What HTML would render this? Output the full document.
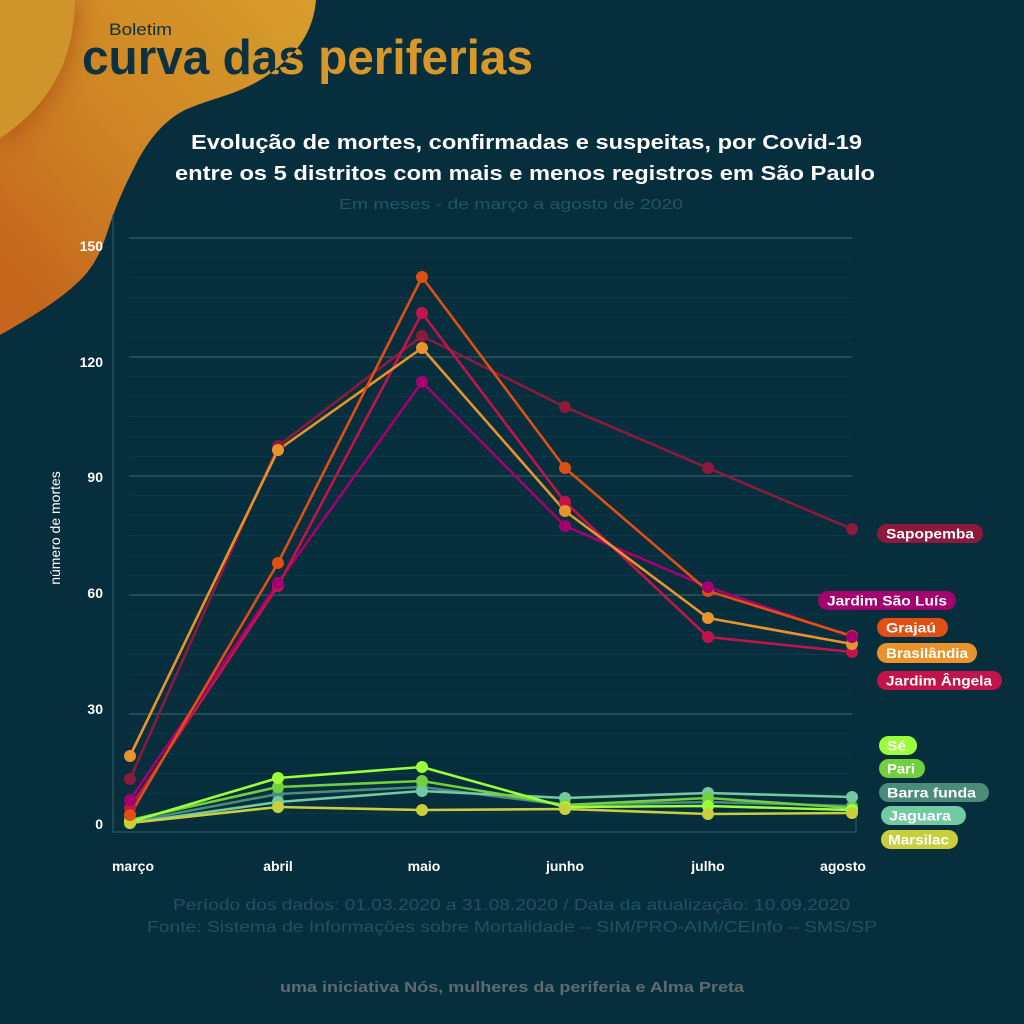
<!DOCTYPE html>
<html><head><meta charset="utf-8">
<style>
html,body{margin:0;padding:0;background:#072e3c;}
svg{display:block;}
text{font-family:"Liberation Sans",sans-serif;}
</style></head>
<body>
<svg width="1024" height="1024" viewBox="0 0 1024 1024" xmlns="http://www.w3.org/2000/svg">
<defs>
<linearGradient id="bg1" x1="300" y1="0" x2="0" y2="260" gradientUnits="userSpaceOnUse">
<stop offset="0" stop-color="#d79d2b"/>
<stop offset="0.55" stop-color="#cf8525"/>
<stop offset="1" stop-color="#c4671d"/>
</linearGradient>
<filter id="blur" x="-50%" y="-50%" width="200%" height="200%"><feGaussianBlur stdDeviation="10"/></filter>
<clipPath id="blobclip"><path d="M0,0 L316,0 C314,25 303,45 286,60 C270,76 252,86 230,94 C212,100 198,104 185,110 C165,120 150,138 138,160 C126,183 116,205 108,230 C100,255 92,270 75,285 C55,303 30,318 0,335 Z"/></clipPath>
</defs>
<rect width="1024" height="1024" fill="#072e3c"/>
<!-- blob -->
<path d="M0,0 L316,0 C314,25 303,45 286,60 C270,76 252,86 230,94 C212,100 198,104 185,110 C165,120 150,138 138,160 C126,183 116,205 108,230 C100,255 92,270 75,285 C55,303 30,318 0,335 Z" fill="url(#bg1)"/>
<g clip-path="url(#blobclip)">
<path d="M0,0 L82,0 C80,55 62,110 0,150 Z" fill="#a94f14" opacity="0.55" filter="url(#blur)"/>
<path d="M0,0 L75,0 C74,50 58,100 0,138 Z" fill="#d0952a"/>
</g>
<!-- logo -->
<text x="109" y="35" font-size="17" fill="#0c3242" textLength="63" lengthAdjust="spacingAndGlyphs">Boletim</text>
<text x="82" y="74" font-size="49" font-weight="bold" fill="#d8972b" textLength="451" lengthAdjust="spacingAndGlyphs">curva das periferias</text>
<g clip-path="url(#blobclip)">
<text x="82" y="74" font-size="49" font-weight="bold" fill="#0c3242" textLength="451" lengthAdjust="spacingAndGlyphs">curva das periferias</text>
</g>
<!-- titles -->
<text x="191" y="149" font-size="20" font-weight="bold" fill="#ffffff" textLength="671" lengthAdjust="spacingAndGlyphs">Evolução de mortes, confirmadas e suspeitas, por Covid-19</text>
<text x="175" y="180" font-size="20" font-weight="bold" fill="#ffffff" textLength="700" lengthAdjust="spacingAndGlyphs">entre os 5 distritos com mais e menos registros em São Paulo</text>
<text x="339" y="209" font-size="15" fill="#1f5669" textLength="344" lengthAdjust="spacingAndGlyphs">Em meses - de março a agosto de 2020</text>
<!-- minor grid -->
<g stroke="#0e3946" stroke-width="1">
<path d="M129,257.8H852M129,277.7H852M129,297.5H852M129,317.3H852M129,337.2H852
M129,376.8H852M129,396.7H852M129,416.5H852M129,436.3H852M129,456.2H852
M129,495.8H852M129,515.7H852M129,535.5H852M129,555.3H852M129,575.2H852
M129,614.8H852M129,634.7H852M129,654.5H852M129,674.3H852M129,694.2H852
M129,733.8H852M129,753.7H852M129,773.5H852M129,793.3H852M129,813.2H852"/>
</g>
<!-- major grid -->
<g stroke="#2b5562" stroke-width="1.6">
<path d="M129,238H852M129,357H852M129,476H852M129,595H852M129,714H852"/>
</g>
<!-- frame -->
<path d="M113,215V832H856V812" fill="none" stroke="#24505c" stroke-width="1.5"/>
<!-- y ticks -->
<g font-size="14" font-weight="bold" fill="#ffffff" text-anchor="end">
<text x="103" y="251">150</text>
<text x="103" y="367">120</text>
<text x="103" y="482">90</text>
<text x="103" y="598">60</text>
<text x="103" y="714">30</text>
<text x="103" y="829">0</text>
</g>
<text transform="translate(60,528) rotate(-90)" font-size="14" fill="#ffffff" text-anchor="middle">número de mortes</text>
<!-- x labels -->
<g font-size="14" font-weight="bold" fill="#ffffff" text-anchor="middle">
<text x="133" y="871">março</text>
<text x="278" y="871">abril</text>
<text x="424" y="871">maio</text>
<text x="565" y="871">junho</text>
<text x="708" y="871">julho</text>
<text x="843" y="871">agosto</text>
</g>
<!-- series: small group -->
<g fill="none" stroke-width="2.6" stroke-linejoin="round">
<polyline stroke="#4b8b79" points="130,822 278,794 422,787 565,805 708,802 852,806"/>
<polyline stroke="#72c9a2" points="130,823 278,802 422,791 565,798 708,793 852,797"/>
<polyline stroke="#72cf3e" points="130,820 278,787 422,781 565,805 708,798 852,808"/>
<polyline stroke="#c9cf3c" points="130,823 278,807 422,810 565,809 708,814 852,813"/>
<polyline stroke="#9cff3c" points="130,822 278,778 422,767 565,807 708,806 852,810"/>
</g>
<g fill="#4b8b79"><circle cx="130" cy="822" r="6"/><circle cx="278" cy="794" r="6"/><circle cx="422" cy="787" r="6"/><circle cx="565" cy="805" r="6"/><circle cx="708" cy="802" r="6"/><circle cx="852" cy="806" r="6"/></g>
<g fill="#72c9a2"><circle cx="130" cy="823" r="6"/><circle cx="278" cy="802" r="6"/><circle cx="422" cy="791" r="6"/><circle cx="565" cy="798" r="6"/><circle cx="708" cy="793" r="6"/><circle cx="852" cy="797" r="6"/></g>
<g fill="#72cf3e"><circle cx="130" cy="820" r="6"/><circle cx="278" cy="787" r="6"/><circle cx="422" cy="781" r="6"/><circle cx="565" cy="805" r="6"/><circle cx="708" cy="798" r="6"/><circle cx="852" cy="808" r="6"/></g>
<g fill="#9cff3c"><circle cx="130" cy="822" r="6"/><circle cx="278" cy="778" r="6"/><circle cx="422" cy="767" r="6"/><circle cx="565" cy="807" r="6"/><circle cx="708" cy="806" r="6"/><circle cx="852" cy="810" r="6"/></g>
<g fill="#c9cf3c"><circle cx="130" cy="823" r="6"/><circle cx="278" cy="807" r="6"/><circle cx="422" cy="810" r="6"/><circle cx="565" cy="809" r="6"/><circle cx="708" cy="814" r="6"/><circle cx="852" cy="813" r="6"/></g>
<!-- series: big group -->
<g fill="none" stroke-width="2.6" stroke-linejoin="round">
<polyline stroke="#8b1a3c" points="130,779 278,446 422,336 565,407 708,468 852,529"/>
<polyline stroke="#a4006f" points="130,800 278,583 422,382 565,526 708,587 852,637"/>
<polyline stroke="#c2144b" points="130,808 278,586 422,313 565,502 708,637 852,652"/>
<polyline stroke="#e8932b" points="130,756 278,450 422,348 565,511 708,618 852,644"/>
<polyline stroke="#e04f13" points="130,815 278,563 422,277 565,468 708,591 852,636"/>
</g>
<g fill="#8b1a3c"><circle cx="130" cy="779" r="6"/><circle cx="278" cy="446" r="6"/><circle cx="422" cy="336" r="6"/><circle cx="565" cy="407" r="6"/><circle cx="708" cy="468" r="6"/><circle cx="852" cy="529" r="6"/></g>
<g fill="#c2144b"><circle cx="130" cy="808" r="6"/><circle cx="278" cy="586" r="6"/><circle cx="422" cy="313" r="6"/><circle cx="565" cy="502" r="6"/><circle cx="708" cy="637" r="6"/><circle cx="852" cy="652" r="6"/></g>
<g fill="#e8932b"><circle cx="130" cy="756" r="6"/><circle cx="278" cy="450" r="6"/><circle cx="422" cy="348" r="6"/><circle cx="565" cy="511" r="6"/><circle cx="708" cy="618" r="6"/><circle cx="852" cy="644" r="6"/></g>
<g fill="#e04f13"><circle cx="130" cy="815" r="6"/><circle cx="278" cy="563" r="6"/><circle cx="422" cy="277" r="6"/><circle cx="565" cy="468" r="6"/><circle cx="708" cy="591" r="6"/><circle cx="852" cy="636" r="6"/></g>
<g fill="#a4006f"><circle cx="130" cy="800" r="6"/><circle cx="278" cy="583" r="6"/><circle cx="422" cy="382" r="6"/><circle cx="565" cy="526" r="6"/><circle cx="708" cy="587" r="6"/><circle cx="852" cy="637" r="6"/></g>
<!-- legend pills -->
<g>
<rect x="877" y="524" width="106" height="19" rx="9.5" fill="#8b1a3c"/>
<rect x="818" y="591" width="138" height="19" rx="9.5" fill="#a4006f"/>
<rect x="877" y="618" width="71" height="19" rx="9.5" fill="#e04f13"/>
<rect x="877" y="643" width="100" height="20" rx="10" fill="#e8932b"/>
<rect x="877" y="671" width="125" height="19" rx="9.5" fill="#c2144b"/>
<rect x="879" y="736" width="38" height="19" rx="9.5" fill="#9cff3c"/>
<rect x="879" y="759" width="46" height="19" rx="9.5" fill="#72cf3e"/>
<rect x="879" y="783" width="110" height="19" rx="9.5" fill="#4b8b79"/>
<rect x="881" y="806" width="85" height="19" rx="9.5" fill="#72c9a2"/>
<rect x="881" y="830" width="77" height="19" rx="9.5" fill="#c9cf3c"/>
</g>
<g font-size="14" font-weight="bold" fill="#ffffff">
<text x="886" y="538.5" textLength="88" lengthAdjust="spacingAndGlyphs">Sapopemba</text>
<text x="827" y="605.5" textLength="120" lengthAdjust="spacingAndGlyphs">Jardim São Luís</text>
<text x="886" y="632.5" textLength="50" lengthAdjust="spacingAndGlyphs">Grajaú</text>
<text x="886" y="658" textLength="82" lengthAdjust="spacingAndGlyphs">Brasilândia</text>
<text x="886" y="685.5" textLength="106" lengthAdjust="spacingAndGlyphs">Jardim Ângela</text>
<text x="887" y="750.5" textLength="19" lengthAdjust="spacingAndGlyphs">Sé</text>
<text x="887" y="773.5" textLength="28" lengthAdjust="spacingAndGlyphs">Pari</text>
<text x="887" y="797.5" textLength="89" lengthAdjust="spacingAndGlyphs">Barra funda</text>
<text x="889" y="820.5" textLength="62" lengthAdjust="spacingAndGlyphs">Jaguara</text>
<text x="888" y="844.5" textLength="61" lengthAdjust="spacingAndGlyphs">Marsilac</text>
</g>
<!-- footer -->
<text x="173" y="910" font-size="16" fill="#1e5266" textLength="677" lengthAdjust="spacingAndGlyphs">Período dos dados: 01.03.2020 a 31.08.2020 / Data da atualização: 10.09.2020</text>
<text x="147" y="932" font-size="16" fill="#1e5266" textLength="730" lengthAdjust="spacingAndGlyphs">Fonte: Sistema de Informações sobre Mortalidade – SIM/PRO-AIM/CEInfo – SMS/SP</text>
<text x="280" y="992" font-size="15" font-weight="bold" fill="#5e6b70" textLength="464" lengthAdjust="spacingAndGlyphs">uma iniciativa Nós, mulheres da periferia e Alma Preta</text>
</svg>
</body></html>
